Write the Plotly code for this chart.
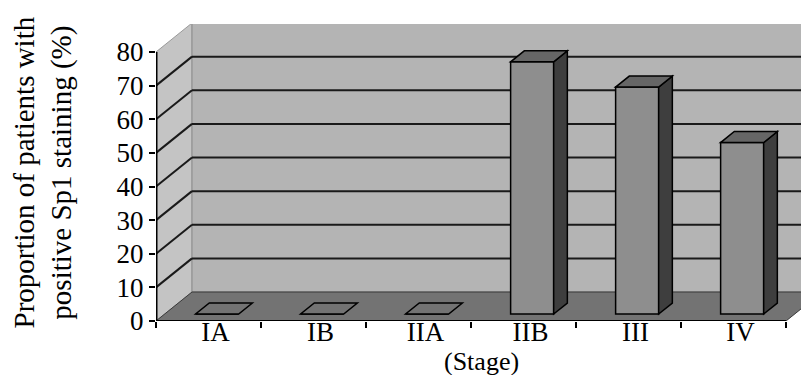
import plotly.graph_objects as go

# ---- data ----
stages = ["IA", "IB", "IIA", "IIB", "III", "IV"]
values = [0, 0, 0, 75, 67.5, 51]
y_ticks = [0, 10, 20, 30, 40, 50, 60, 70, 80]
y_title = "Proportion of patients with<br>positive Sp1 staining (%)"
x_title = "(Stage)"

# ---- geometry / style ----
W, H = 809, 375
ML, MR, MT, MB = 148, 0, 16, 62
PX_PER_CAT = 105.0
PX_PER_UNIT = 269.0 / 80.0
DEPTH_PX_X, DEPTH_PX_Y = 36.0, 29.0
DX = DEPTH_PX_X / PX_PER_CAT
DY = DEPTH_PX_Y / PX_PER_UNIT
YMAX_VAL = y_ticks[-1]
x_lo = -0.5
x_hi = x_lo + (W - ML - MR) / PX_PER_CAT
y_hi = (H - MT - MB) / PX_PER_UNIT
n = len(stages)
x_end = n - 0.5
D0, D1 = 0.24, 0.62
BAR_W = 0.41

FONT = "Liberation Serif"
C_LEFT = "#c4c4c4"
C_BACK = "#b4b4b4"
C_FLOOR = "#737373"
C_FRONT = "#8e8e8e"
C_SIDE = "#3e3e3e"
C_TOP = "#666666"
C_GRID = "#1a1a1a"

xs = list(range(n))


def path(pts):
    return "M " + " L ".join(f"{a},{b}" for a, b in pts) + " Z"


shapes = []
# left wall
shapes.append(dict(type="path", xref="x", yref="y", layer="below",
                   path=path([(x_lo, 0), (x_lo, YMAX_VAL), (x_lo + DX, YMAX_VAL + DY), (x_lo + DX, DY)]),
                   fillcolor=C_LEFT, line=dict(color="#9a9a9a", width=1)))
# back wall
shapes.append(dict(type="rect", xref="x", yref="y", layer="below",
                   x0=x_lo + DX, x1=x_hi + 1, y0=DY, y1=YMAX_VAL + DY,
                   fillcolor=C_BACK, line=dict(color="#8c8c8c", width=1)))
# floor
shapes.append(dict(type="path", xref="x", yref="y", layer="below",
                   path=path([(x_lo, 0), (x_end, 0), (x_end + DX, DY), (x_lo + DX, DY)]),
                   fillcolor=C_FLOOR, line=dict(color="#3a3a3a", width=1)))
# gridlines
for v in y_ticks[1:-1]:
    shapes.append(dict(type="line", xref="x", yref="y", layer="below",
                       x0=x_lo, y0=v, x1=x_lo + DX, y1=v + DY,
                       line=dict(color=C_GRID, width=2)))
    shapes.append(dict(type="line", xref="x", yref="y", layer="below",
                       x0=x_lo + DX, y0=v + DY, x1=x_hi + 1, y1=v + DY,
                       line=dict(color=C_GRID, width=2)))

# bar sides and tops
ddx = (D1 - D0) * DX
ddy = (D1 - D0) * DY
for i, v in zip(xs, values):
    c = i + D0 * DX
    xl, xr = c - BAR_W / 2, c + BAR_W / 2
    yb, yt = D0 * DY, v + D0 * DY
    if v > 0:
        shapes.append(dict(type="path", xref="x", yref="y", layer="above",
                           path=path([(xr, yb), (xr, yt), (xr + ddx, yt + ddy), (xr + ddx, yb + ddy)]),
                           fillcolor=C_SIDE, line=dict(color="black", width=1.5)))
    shapes.append(dict(type="path", xref="x", yref="y", layer="above",
                       path=path([(xl, yt), (xr, yt), (xr + ddx, yt + ddy), (xl + ddx, yt + ddy)]),
                       fillcolor=C_TOP if v > 0 else C_FLOOR, line=dict(color="black", width=1.5)))

# axis lines
shapes.append(dict(type="line", xref="x", yref="y", layer="above",
                   x0=x_lo, y0=0, x1=x_lo, y1=YMAX_VAL, line=dict(color="black", width=3)))
shapes.append(dict(type="line", xref="x", yref="y", layer="above",
                   x0=x_lo, y0=0, x1=x_end, y1=0, line=dict(color="black", width=2)))

fig = go.Figure()
fig.add_trace(go.Bar(
    x=xs, y=values, base=D0 * DY, width=BAR_W, offset=-BAR_W / 2 + D0 * DX,
    marker=dict(color=C_FRONT, line=dict(color="black", width=1.5)),
    hoverinfo="skip", showlegend=False,
))

annotations = [
    dict(text=y_title, textangle=-90, xref="paper", yref="paper",
         x=0, y=0.5, xanchor="center", yanchor="middle", xshift=-113,
         showarrow=False, font=dict(family=FONT, size=29, color="black")),
    dict(text=x_title, xref="x", yref="paper",
         x=(x_lo + x_end) / 2, y=0, xanchor="center", yanchor="middle",
         xshift=10, yshift=-40,
         showarrow=False, font=dict(family=FONT, size=26, color="black")),
]

fig.update_layout(
    width=W, height=H,
    margin=dict(l=ML, r=MR, t=MT, b=MB, autoexpand=False),
    paper_bgcolor="white", plot_bgcolor="white",
    shapes=shapes, annotations=annotations, showlegend=False, hovermode=False,
    font=dict(family=FONT, color="black"),
)
fig.update_xaxes(
    range=[x_lo, x_hi], showgrid=False, zeroline=False, showline=False,
    tickmode="array", tickvals=xs, ticktext=stages, ticks="",
    ticklabelshift=7, ticklabelstandoff=-8,
    tickfont=dict(family=FONT, size=27, color="black"),
    minor=dict(tick0=-0.5, dtick=1, ticks="outside", ticklen=6, tickwidth=2,
               tickcolor="black", showgrid=False),
)
fig.update_yaxes(
    range=[0, y_hi], showgrid=False, zeroline=False, showline=False,
    tickmode="array", tickvals=y_ticks, ticks="outside", ticklen=6, tickwidth=2,
    tickcolor="black",
    tickfont=dict(family=FONT, size=27, color="black"),
)

fig.write_html("out.html")
